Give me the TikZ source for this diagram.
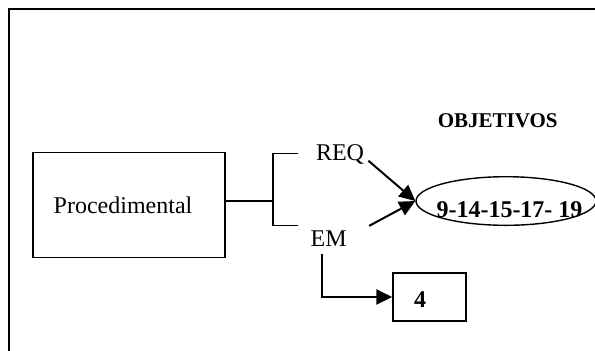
\documentclass[tikz,border=0pt]{standalone}
\usepackage{fontspec}
\setmainfont{Liberation Serif}
\usetikzlibrary{arrows.meta,positioning,shapes.geometric}
\tikzset{
  base/.style={font=\fontsize{12}{14}\selectfont, align=center, inner sep=2pt, text=black},
  bold/.style={base, font=\fontsize{12}{14}\selectfont\bfseries},
  head/.style={base, font=\fontsize{10.5}{12}\selectfont\bfseries},
  box/.style={base, rectangle, draw=black, fill=white, line width=0.75pt},
  oval/.style={base, ellipse, draw=black, line width=0.7pt, inner sep=0pt},
  arr/.style={-{Triangle[length=8pt,width=7.5pt]}, line width=1pt, draw=black},
  wire/.style={line width=0.7pt, draw=black},
  frame/.style={line width=1pt, draw=black},
}
\begin{document}
\begin{tikzpicture}[x=0.5pt,y=-0.5pt]
  \useasboundingbox (0,0) rectangle (595,350);
  \clip (0,0) rectangle (595,350);
  % outer frame
  \draw[frame] (9,9) rectangle (640,400);
  % boxes and labels
  \node[box,minimum width=96pt,minimum height=52.3pt,label={[base,xshift=-3pt]center:Procedimental}] (proc) at (129,205) {};
  \node[base,anchor=base] (req) at (340,160.7) {REQ};
  \node[base,anchor=base] (em) at (328.7,246) {EM};
  \node[head,anchor=base] (objt) at (497.7,127.3) {OBJETIVOS};
  \node[oval,minimum width=90pt,minimum height=24.3pt,label={[bold,xshift=1.75pt,yshift=-4.35pt]center:9-14-15-17- 19}] (obj) at (506,201) {};
  \node[box,minimum width=36.5pt,minimum height=24pt,label={[bold,xshift=-4.75pt,yshift=-1.5pt]center:4}] (four) at (429.5,297) {};
  % bracket
  \coordinate (fork) at (273,201);
  \draw[wire] (proc.east |- fork) -- (fork);
  \draw[wire] (298,153.3) -| (273,225.3) -- (298,225.3);
  % arrows
  \draw[arr] (req.base east) -- (obj.west);
  \draw[arr] ([xshift=9pt]em.north east) -- (obj.west);
  \coordinate (emstem) at (322,254);
  \draw[arr] (emstem) |- (four);
\end{tikzpicture}
\end{document}
